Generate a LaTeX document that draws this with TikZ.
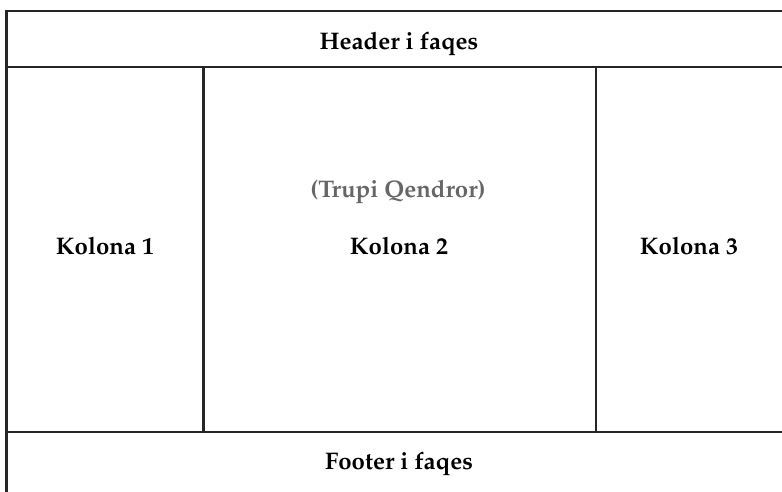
\documentclass[tikz,border=0pt]{standalone}
\usepackage[T1]{fontenc}
\usepackage{mathpazo}
\begin{document}
\begin{tikzpicture}[x=1pt,y=-1pt,
  frame/.style={draw=black!85,line width=2.2pt},
  lbl/.style={font=\fontsize{24}{28}\selectfont\bfseries},
  sub/.style={lbl,text=black!60}]
\useasboundingbox (0,0) rectangle (782,491);
\clip (0,0) rectangle (782,491);
\coordinate (tl) at (6.5,11);
\coordinate (hb) at (6.5,67);
\coordinate (fb) at (6.5,432);
\coordinate (c1t) at (203.5,67);
\coordinate (c1b) at (203.5,432);
\coordinate (c2t) at (596,67);
\coordinate (c2b) at (596,432);
\coordinate (tr) at (800,11);
\coordinate (hr) at (800,67);
\coordinate (fr) at (800,432);
\coordinate (bl) at (6.5,510);
\draw[frame] (bl) -- (tl) -- (tr);
\draw[frame] (hb) -- (hr);
\draw[frame] (fb) -- (fr);
\draw[frame] (c1t) -- (c1b);
\draw[frame] (c2t) -- (c2b);
\node[lbl] (header) at (399,44) {Header i faqes};
\node[lbl] (k1) at (105,246) {Kolona 1};
\node[sub] (trupi) at (398,192) {(Trupi Qendror)};
\node[lbl] (k2) at (399,246) {Kolona 2};
\node[lbl] (k3) at (689,246) {Kolona 3};
\node[lbl] (footer) at (399,464) {Footer i faqes};
\end{tikzpicture}
\end{document}
